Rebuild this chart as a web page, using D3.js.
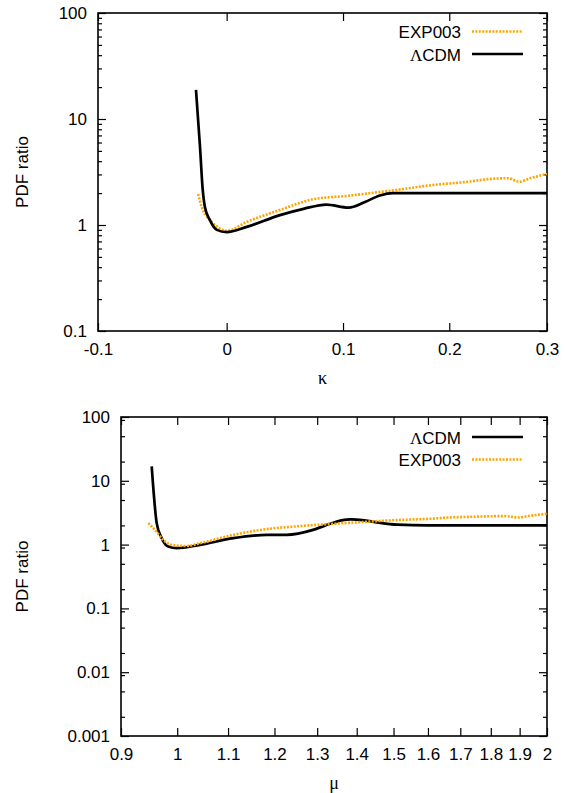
<!DOCTYPE html>
<html>
<head>
<meta charset="utf-8">
<script src="https://cdn.jsdelivr.net/npm/d3@7"></script>
<style>
body { margin: 0; background: #fff; }
text { font-family: "Liberation Sans", Arial, sans-serif; font-size: 17px; fill: #000; }
.tick line { stroke: #000; stroke-width: 1.2; }
</style>
</head>
<body>
<script>
// data

// top panel: kappa
const kappaTicks = [-0.1, 0, 0.1, 0.2, 0.3];
const kappaTickLabels = ["-0.1", "0", "0.1", "0.2", "0.3"];

const kappaLcdmK = [-0.0248, -0.0216, -0.0194, -0.0177, -0.0136, -0.008, 0.0, 0.0166, 0.0446, 0.065, 0.085, 0.105, 0.12, 0.1337, 0.146, 0.2, 0.3];
const kappaLcdmR = [18.8, 5.5, 2.14, 1.49, 1.11, 0.90, 0.855, 0.96, 1.24, 1.42, 1.56, 1.46, 1.65, 1.90, 2.0, 2.0, 2.0];

const kappaExpK = [-0.0231, -0.0203, -0.0136, -0.0069, 0.0, 0.0166, 0.0446, 0.0735, 0.1032, 0.1337, 0.149, 0.1834, 0.2187, 0.2373, 0.2594, 0.2709, 0.2822, 0.3];
const kappaExpR = [1.96, 1.49, 1.11, 0.95, 0.88, 1.07, 1.385, 1.75, 1.88, 2.05, 2.14, 2.38, 2.56, 2.70, 2.76, 2.56, 2.76, 3.03];

const kappaYTicks = [0.1, 1, 10, 100];
const kappaYLabels = ["0.1", "1", "10", "100"];

// bottom panel: mu
const muTicks = [0.9, 1, 1.1, 1.2, 1.3, 1.4, 1.5, 1.6, 1.7, 1.8, 1.9, 2];
const muTickLabels = ["0.9", "1", "1.1", "1.2", "1.3", "1.4", "1.5", "1.6", "1.7", "1.8", "1.9", "2"];

const muLcdmM = [0.9533, 0.9623, 0.9714, 0.9834, 0.999, 1.0436, 1.1107, 1.1827, 1.2278, 1.29, 1.33, 1.36, 1.385, 1.42, 1.46, 1.51, 1.6, 2.0];
const muLcdmR = [16.8, 2.17, 1.26, 0.93, 0.878, 0.99, 1.26, 1.42, 1.42, 1.7, 2.1, 2.4, 2.48, 2.4, 2.2, 2.05, 2.0, 2.0];

const muExpM = [0.9473, 0.9592, 0.9742, 0.9897, 1.018, 1.0436, 1.1107, 1.1827, 1.2587, 1.3567, 1.41, 1.462, 1.53, 1.613, 1.657, 1.726, 1.8, 1.847, 1.897, 1.93, 2.0];
const muExpR = [2.17, 1.70, 1.185, 0.99, 0.95, 1.05, 1.42, 1.75, 1.95, 2.15, 2.25, 2.35, 2.45, 2.55, 2.65, 2.72, 2.78, 2.8, 2.66, 2.8, 3.05];

const muYTicks = [0.001, 0.01, 0.1, 1, 10, 100];
const muYLabels = ["0.001", "0.01", "0.1", "1", "10", "100"];

// minor ticks per decade
const kappaMinor = [2, 3, 4, 5, 6, 7, 8, 9];
const muMinor = [2, 5, 9];

const orange = "#ffa500";

const svg = d3.select("body").append("svg")
  .attr("width", 565)
  .attr("height", 793);

function minorList(lo, hi, mult) {
  const out = [];
  for (let d = lo; d < hi; d *= 10) mult.forEach(m => out.push(d * m));
  return out;
}

function panel(p) {
  const g = svg.append("g");

  const x = d3.scaleLog().domain(p.xDomain).range([p.left, p.right]);
  const y = d3.scaleLog().domain([p.yTicks[0], 100]).range([p.bottom, p.top]);

  // x ticks, bottom with labels, top mirrored
  g.append("g")
    .attr("transform", "translate(0," + p.bottom + ")")
    .call(d3.axisBottom(x).tickValues(p.xTicks.map(p.xMap)).tickSize(-8).tickPadding(12)
      .tickFormat((d, i) => p.xLabels[i]))
    .call(a => a.select(".domain").remove())
    .selectAll("text").style("font-size", "17px").style("font-family", "Liberation Sans, Arial, sans-serif");

  g.append("g")
    .attr("transform", "translate(0," + p.top + ")")
    .call(d3.axisTop(x).tickValues(p.xTicks.map(p.xMap)).tickSize(-8).tickFormat(""))
    .call(a => a.select(".domain").remove());

  // y ticks
  g.append("g")
    .attr("transform", "translate(" + p.left + ",0)")
    .call(d3.axisLeft(y).tickValues(p.yTicks).tickSize(-8).tickPadding(11)
      .tickFormat((d, i) => p.yLabels[i]))
    .call(a => a.select(".domain").remove())
    .selectAll("text").style("font-size", "17px").style("font-family", "Liberation Sans, Arial, sans-serif");

  g.append("g")
    .attr("transform", "translate(" + p.right + ",0)")
    .call(d3.axisRight(y).tickValues(p.yTicks).tickSize(-8).tickFormat(""))
    .call(a => a.select(".domain").remove());

  const minors = minorList(p.yTicks[0], 100, p.minor);
  g.append("g")
    .attr("transform", "translate(" + p.left + ",0)")
    .call(d3.axisLeft(y).tickValues(minors).tickSize(-4).tickFormat(""))
    .call(a => a.select(".domain").remove());
  g.append("g")
    .attr("transform", "translate(" + p.right + ",0)")
    .call(d3.axisRight(y).tickValues(minors).tickSize(-4).tickFormat(""))
    .call(a => a.select(".domain").remove());

  // frame
  g.append("rect")
    .attr("x", p.left).attr("y", p.top)
    .attr("width", p.right - p.left).attr("height", p.bottom - p.top)
    .attr("fill", "none").attr("stroke", "#000").attr("stroke-width", 1.6);

  // curves, in the plotting order
  const line = d3.line()
    .x(d => x(p.xMap(d[0])))
    .y(d => y(d[1]))
    .curve(d3.curveMonotoneX);

  p.series.forEach(s => {
    g.append("path")
      .datum(s.xs.map((v, i) => [v, s.ys[i]]))
      .attr("fill", "none")
      .attr("stroke", s.color)
      .attr("stroke-width", s.dotted ? 2.6 : 2.7)
      .attr("stroke-dasharray", s.dotted ? "2,1.4" : null)
      .attr("stroke-linejoin", "round")
      .attr("d", line);
  });

  // legend
  p.series.forEach((s, i) => {
    const ly = p.legendY + i * 22.5;
    const t = g.append("text")
      .attr("x", 461).attr("y", ly)
      .attr("text-anchor", "end");
    if (s.name === "ΛCDM") {
      t.append("tspan").style("font-family", "Liberation Serif, serif").text("Λ");
      t.append("tspan").text("CDM");
    } else {
      t.text(s.name);
    }
    g.append("line")
      .attr("x1", 472).attr("x2", 523)
      .attr("y1", ly - 6.5).attr("y2", ly - 6.5)
      .attr("stroke", s.color)
      .attr("stroke-width", s.dotted ? 2.6 : 2.7)
      .attr("stroke-dasharray", s.dotted ? "2,1.4" : null);
  });

  // axis titles
  g.append("text")
    .attr("x", (p.left + p.right) / 2).attr("y", p.bottom + 53)
    .attr("text-anchor", "middle")
    .style("font-family", "Liberation Serif, serif")
    .style("font-size", "18px")
    .text(p.xTitle);

  g.append("text")
    .attr("transform", "translate(28," + (p.top + p.bottom) / 2 + ") rotate(-90)")
    .attr("text-anchor", "middle")
    .text("PDF ratio");
}

panel({
  left: 98, right: 547, top: 13, bottom: 331,
  xDomain: [0.9, 1.3],
  xMap: k => 1 + k,
  xTicks: kappaTicks, xLabels: kappaTickLabels,
  yTicks: kappaYTicks, yLabels: kappaYLabels,
  minor: kappaMinor,
  xTitle: "κ",
  legendY: 38,
  series: [
    { name: "EXP003", xs: kappaExpK, ys: kappaExpR, color: orange, dotted: true },
    { name: "ΛCDM", xs: kappaLcdmK, ys: kappaLcdmR, color: "#000", dotted: false }
  ]
});

panel({
  left: 121, right: 547, top: 417, bottom: 736,
  xDomain: [0.9, 2],
  xMap: m => m,
  xTicks: muTicks, xLabels: muTickLabels,
  yTicks: muYTicks, yLabels: muYLabels,
  minor: muMinor,
  xTitle: "μ",
  legendY: 443.5,
  series: [
    { name: "ΛCDM", xs: muLcdmM, ys: muLcdmR, color: "#000", dotted: false },
    { name: "EXP003", xs: muExpM, ys: muExpR, color: orange, dotted: true }
  ]
});
</script>
</body>
</html>
